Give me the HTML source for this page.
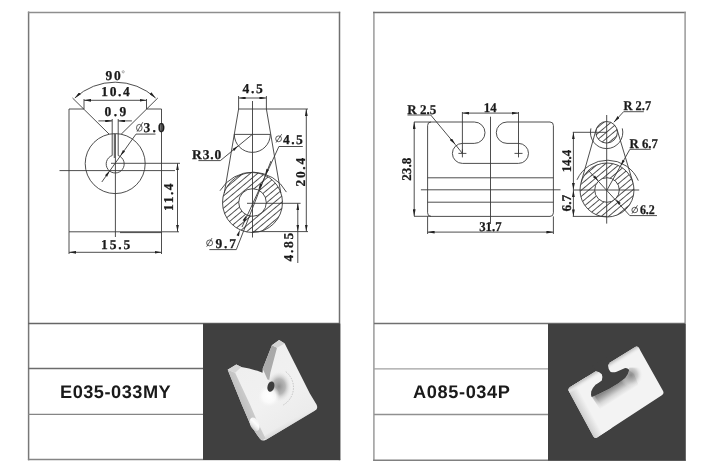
<!DOCTYPE html>
<html><head><meta charset="utf-8"><style>
html,body{margin:0;padding:0;background:#fff;}
body{width:718px;height:470px;overflow:hidden;position:relative;}
svg{position:absolute;left:0;top:0;will-change:transform;}
text{text-rendering:geometricPrecision;}
.pn{font-family:"Liberation Sans",sans-serif;font-weight:bold;font-size:18.2px;fill:#1a1a1a;}
.d{font-family:"Liberation Serif",serif;font-weight:bold;fill:#1a1a1a;stroke:#1a1a1a;stroke-width:0.25px;}
</style></head><body>
<svg width="718" height="470" viewBox="0 0 718 470">
<defs>
<marker id="a" viewBox="0 0 10 4" refX="10" refY="2" markerWidth="7" markerHeight="2.8" markerUnits="userSpaceOnUse" orient="auto-start-reverse"><path d="M0,0 L10,2 L0,4 z" fill="#222"/></marker>
<clipPath id="annL"><path fill-rule="evenodd" d="M282.5,202.5 A30,30 0 1 0 222.5,202.5 A30,30 0 1 0 282.5,202.5 Z M266.3,202.5 A13.8,13.8 0 1 0 238.7,202.5 A13.8,13.8 0 1 0 266.3,202.5 Z" clip-rule="evenodd"/></clipPath>
<clipPath id="smR"><circle cx="606.6" cy="132.3" r="10.8"/></clipPath>
<clipPath id="annR"><path d="M634.1,190 A27,27 0 1 0 580.1,190 A27,27 0 1 0 634.1,190 Z M619,190 A12.3,12.3 0 1 0 594.4,190 A12.3,12.3 0 1 0 619,190 Z" clip-rule="evenodd"/></clipPath>
<pattern id="hatch" patternUnits="userSpaceOnUse" width="4.7" height="4.7" patternTransform="rotate(50)"><line x1="2.35" y1="0" x2="2.35" y2="4.7" stroke="#2a2a2a" stroke-width="0.8"/></pattern>
</defs>

<!-- frames -->
<g fill="none" stroke-width="1.5">
<line x1="28.6" y1="11.6" x2="28.6" y2="460.3" stroke="#787878"/>
<line x1="27.9" y1="12.4" x2="340.2" y2="12.4" stroke="#8e8e8e"/>
<line x1="339.5" y1="11.7" x2="339.5" y2="460.3" stroke="#707070"/>
<line x1="27.9" y1="459.6" x2="340.2" y2="459.6" stroke="#858585"/>
<line x1="373.9" y1="11.7" x2="373.9" y2="461" stroke="#9a9a9a"/>
<line x1="373.2" y1="12.4" x2="685.8" y2="12.4" stroke="#707070"/>
<line x1="685.1" y1="11.7" x2="685.1" y2="461" stroke="#999999"/>
<line x1="373.2" y1="460.3" x2="685.8" y2="460.3" stroke="#808080"/>
<line x1="28" y1="323.4" x2="340" y2="323.4" stroke="#666666"/>
<line x1="374" y1="323.4" x2="685" y2="323.4" stroke="#707070"/>
</g>
<g fill="none" stroke-width="1.3">
<line x1="28" y1="368.5" x2="203" y2="368.5" stroke="#6c6c6c"/>
<line x1="28" y1="414.4" x2="203" y2="414.4" stroke="#858585"/>
<line x1="374" y1="368.9" x2="548" y2="368.9" stroke="#a0a0a0"/>
<line x1="374" y1="414.5" x2="548" y2="414.5" stroke="#909090"/>
</g>
<rect x="203" y="323.6" width="137.3" height="136.4" fill="#404040"/>
<rect x="548" y="323.8" width="137.6" height="136.8" fill="#404040"/>

<text class="pn" x="60.0" y="397.9" letter-spacing="0.5">E035-033MY</text>
<text class="pn" x="413.0" y="397.9" letter-spacing="0.62">A085-034P</text>

<!-- ================= LEFT DRAWING ================= -->
<g fill="none" stroke="#3a3a3a" stroke-width="0.9">
<!-- front view -->
<polyline points="84,109 69,109 69,231.8 161.5,231.8 161.5,109 146.5,109"/>
<line x1="161.5" y1="231.8" x2="161.5" y2="254"/>
<line x1="69" y1="231.8" x2="69" y2="254"/>
<line x1="161.5" y1="231.8" x2="179" y2="231.8"/>
<line x1="120" y1="232.6" x2="161.5" y2="232.6"/>
<line x1="72.5" y1="98" x2="109.2" y2="134.2"/>
<line x1="157.8" y1="98" x2="121.2" y2="134.2"/>
<line x1="84" y1="99" x2="84" y2="109"/>
<line x1="146.5" y1="99" x2="146.5" y2="109"/>
<circle cx="115.2" cy="163.6" r="30"/>
<path d="M112.2,119 L112.2,155.5 A9,9 0 1 0 118.2,155.5 L118.2,119"/>
<line x1="114.3" y1="134" x2="114.3" y2="158"/>
<line x1="115.4" y1="134" x2="115.4" y2="237"/>
<line x1="59.5" y1="170.6" x2="175" y2="170.6"/>
<line x1="111" y1="163.3" x2="180" y2="163.3"/>
<!-- 90 arc -->
<path d="M74.8,98 A59.5,59.5 0 0 1 155.6,98" marker-start="url(#a)" marker-end="url(#a)"/>
<!-- 10.4 -->
<line x1="84" y1="100.3" x2="146.5" y2="100.3" marker-start="url(#a)" marker-end="url(#a)"/>
<!-- 0.9 -->
<line x1="98.4" y1="120.9" x2="112.2" y2="120.9" marker-end="url(#a)"/>
<line x1="131.9" y1="120.9" x2="118.2" y2="120.9" marker-end="url(#a)"/>
<!-- dia 3.0 leader -->
<line x1="155.5" y1="134.1" x2="136" y2="134.1"/>
<line x1="136" y1="134.1" x2="101.8" y2="182"/>
<!-- 11.4 -->
<line x1="177.5" y1="163.3" x2="177.5" y2="231.8" marker-start="url(#a)" marker-end="url(#a)"/>
<!-- 15.5 -->
<line x1="69" y1="252.3" x2="161.5" y2="252.3" marker-start="url(#a)" marker-end="url(#a)"/>

<!-- side view -->
<line x1="238.6" y1="109" x2="308" y2="109"/>
<line x1="238.6" y1="96" x2="238.6" y2="109"/>
<line x1="266.4" y1="96" x2="266.4" y2="109"/>
<line x1="238.6" y1="98" x2="266.4" y2="98" marker-start="url(#a)" marker-end="url(#a)"/>
<line x1="238.6" y1="109" x2="224.3" y2="193"/>
<line x1="266.4" y1="109" x2="280.8" y2="193"/>
<line x1="252.5" y1="101" x2="252.5" y2="237.5"/>
<line x1="234.3" y1="134.4" x2="270.3" y2="134.4"/>
<path d="M234.3,134.4 A18,18 0 0 0 270.3,134.4"/>
<!-- R3.0 leader -->
<line x1="198.4" y1="160.6" x2="220.4" y2="160.6"/>
<line x1="220.4" y1="160.6" x2="252.3" y2="134.4"/>
<!-- big circle -->
<circle cx="252.5" cy="202.5" r="30"/>
<circle cx="252.5" cy="202.5" r="13.8"/>
<path d="M220,190.7 A38.3,38.3 0 0 1 286.4,192.1"/>
<line x1="247" y1="203.3" x2="300.6" y2="203.3"/>
<line x1="252.5" y1="231.6" x2="308" y2="231.6"/>
<!-- 20.4 -->
<line x1="306.3" y1="109" x2="306.3" y2="231.6" marker-start="url(#a)" marker-end="url(#a)"/>
<!-- 4.85 -->
<line x1="297.8" y1="203.3" x2="297.8" y2="231.6" marker-start="url(#a)" marker-end="url(#a)"/>
<line x1="297.8" y1="231.6" x2="297.8" y2="263"/>
<!-- dia 4.5 leader -->
<line x1="302.8" y1="146.5" x2="278.9" y2="146.5"/>
<line x1="278.9" y1="146.5" x2="242" y2="227"/>
<!-- dia 9.7 leader -->
<line x1="209.4" y1="249.6" x2="236.3" y2="249.6"/>
<line x1="236.3" y1="249.6" x2="271" y2="161"/>
</g>
<rect x="220" y="170" width="66" height="66" fill="url(#hatch)" clip-path="url(#annL)"/>

<!-- ================= RIGHT DRAWING ================= -->
<g fill="none" stroke="#3a3a3a" stroke-width="0.9">
<!-- main rect -->
<path d="M474.3,122 L431,122 Q427.6,122 427.6,125.5 L427.6,212.8 Q427.6,216.4 431,216.4 L550,216.4 Q553.4,216.4 553.4,212.8 L553.4,125.5 Q553.4,122 550,122 L507,122"/>
<line x1="414" y1="122" x2="431" y2="122"/>
<path d="M474.3,122 A10.7,10.7 0 0 1 474.3,143.4 L462.4,143.4 A10,10 0 0 0 462.4,163.4 L518.5,163.4 A10,10 0 0 0 518.5,143.4 L507,143.4 A10.7,10.7 0 0 1 507,122"/>
<line x1="427.6" y1="177.8" x2="553.4" y2="177.8"/>
<line x1="420.9" y1="189.8" x2="560.5" y2="189.8"/>
<line x1="427.6" y1="202.2" x2="553.4" y2="202.2"/>
<line x1="490.5" y1="116.7" x2="490.5" y2="224"/>
<!-- crosses -->
<line x1="458.4" y1="153.4" x2="466.4" y2="153.4"/>
<line x1="462.4" y1="149.4" x2="462.4" y2="157.4"/>
<line x1="514.5" y1="153.4" x2="522.5" y2="153.4"/>
<line x1="518.5" y1="149.4" x2="518.5" y2="157.4"/>
<!-- 14 -->
<line x1="462.4" y1="112" x2="462.4" y2="153.4"/>
<line x1="518.5" y1="112" x2="518.5" y2="153.4"/>
<line x1="462.4" y1="113.1" x2="518.5" y2="113.1" marker-start="url(#a)" marker-end="url(#a)"/>
<!-- R2.5 leader -->
<line x1="407.5" y1="115" x2="430.7" y2="115"/>
<line x1="430.7" y1="115" x2="455.3" y2="144.5" marker-end="url(#a)"/>
<line x1="455.3" y1="144.5" x2="462.4" y2="153.4"/>
<!-- 23.8 -->
<line x1="414.2" y1="122" x2="414.2" y2="216.2" marker-start="url(#a)" marker-end="url(#a)"/>
<line x1="414" y1="216.3" x2="431" y2="216.3"/>
<!-- 31.7 -->
<line x1="427.6" y1="216.4" x2="427.6" y2="234"/>
<line x1="553.4" y1="216.4" x2="553.4" y2="234"/>
<line x1="427.6" y1="232.1" x2="553.4" y2="232.1" marker-start="url(#a)" marker-end="url(#a)"/>

<!-- second figure -->
<circle cx="606.6" cy="132.3" r="10.8"/>
<path d="M590.9,128.4 A16.2,16.2 0 1 0 622.3,128.4"/>
<circle cx="607" cy="190" r="27"/>
<circle cx="607" cy="190" r="12.3"/>
<path d="M577,179.8 A33.5,33.5 0 0 1 638.3,180.6"/>
<line x1="596.2" y1="129.3" x2="581.1" y2="182.4"/>
<line x1="617" y1="129.3" x2="632.9" y2="182.4"/>
<line x1="606.7" y1="115" x2="606.7" y2="223.6"/>
<line x1="573.3" y1="190" x2="639.2" y2="190"/>
<line x1="572.8" y1="132.3" x2="606.6" y2="132.3"/>
<line x1="572.8" y1="216.4" x2="607" y2="216.4"/>
<line x1="573.4" y1="132.3" x2="573.4" y2="190" marker-start="url(#a)" marker-end="url(#a)"/>
<line x1="573.4" y1="190" x2="573.4" y2="216.4" marker-start="url(#a)" marker-end="url(#a)"/>
<!-- R2.7 leader -->
<line x1="623.6" y1="111.7" x2="643.8" y2="111.7"/>
<line x1="623.6" y1="111.7" x2="613.9" y2="122.2" marker-end="url(#a)"/>
<!-- R6.7 leader -->
<line x1="629.9" y1="149.3" x2="650.8" y2="149.3"/>
<line x1="629.9" y1="149.3" x2="607" y2="190"/>
<!-- dia 6.2 leader -->
<line x1="588.1" y1="170.1" x2="629.8" y2="215.6"/>
<line x1="629.8" y1="215.6" x2="657" y2="215.6"/>
</g>
<rect x="594" y="119" width="26" height="26" fill="url(#hatch)" clip-path="url(#smR)"/>
<rect x="578" y="161" width="58" height="58" fill="url(#hatch)" clip-path="url(#annR)"/>

<text class="d" transform="translate(105.80,80.40) scale(1.000,1)" x="-0.34" font-size="13.5" letter-spacing="1.68">90</text>
<circle cx="123.2" cy="71.8" r="1.1" fill="none" stroke="#777" stroke-width="0.6"/>
<text class="d" transform="translate(102.40,95.90) scale(1.000,1)" x="-1.08" font-size="13.5" letter-spacing="1.64">10.4</text>
<text class="d" transform="translate(105.10,115.60) scale(1.000,1)" x="-0.54" font-size="13.5" letter-spacing="2.37">0.9</text>
<ellipse cx="139.3" cy="127.8" rx="2.8" ry="3.4" fill="none" stroke="#333" stroke-width="0.8"/><line x1="142.8" y1="122.2" x2="137.1" y2="131.7" stroke="#333" stroke-width="0.8"/>
<text class="d" transform="translate(144.00,132.10) scale(1.000,1)" x="-0.54" font-size="13.5" letter-spacing="2.20">3.0</text>
<text class="d" transform="translate(102.20,249.10) scale(1.000,1)" x="-1.08" font-size="13.5" letter-spacing="1.84">15.5</text>
<text class="d" transform="translate(242.60,92.60) scale(1.000,1)" x="-0.20" font-size="13.5" letter-spacing="1.75">4.5</text>
<text class="d" transform="translate(192.30,158.90) scale(1.000,1)" x="-0.20" font-size="13.5" letter-spacing="0.81">R3.0</text>
<ellipse cx="278.6" cy="138.8" rx="2.9" ry="2.9" fill="none" stroke="#333" stroke-width="0.8"/><line x1="281.7" y1="134.2" x2="276.1" y2="142.5" stroke="#333" stroke-width="0.8"/>
<text class="d" transform="translate(283.10,143.90) scale(1.000,1)" x="-0.20" font-size="13.5" letter-spacing="1.50">4.5</text>
<ellipse cx="209.6" cy="242.9" rx="3.0" ry="2.9" fill="none" stroke="#333" stroke-width="0.8"/><line x1="212" y1="238.1" x2="206.7" y2="246.7" stroke="#333" stroke-width="0.8"/>
<text class="d" transform="translate(215.90,247.80) scale(1.000,1)" x="-0.34" font-size="13.5" letter-spacing="1.80">9.7</text>
<text class="d" transform="translate(172.80,209.80) rotate(-90) scale(1.000,1)" x="-1.08" font-size="13.5" letter-spacing="1.51">11.4</text>
<text class="d" transform="translate(305.00,186.00) rotate(-90) scale(1.000,1)" x="-0.54" font-size="13.5" letter-spacing="1.70">20.4</text>
<text class="d" transform="translate(293.40,261.20) rotate(-90) scale(1.000,1)" x="-0.20" font-size="13.5" letter-spacing="1.65">4.85</text>
<text class="d" transform="translate(407.50,113.70) scale(0.980,1)" x="-0.20" font-size="13.3">R 2.5</text>
<text class="d" transform="translate(484.80,111.80) scale(0.961,1)" x="-1.06" font-size="13.3">14</text>
<text class="d" transform="translate(479.70,231.20) scale(0.964,1)" x="-0.53" font-size="13.3">31.7</text>
<text class="d" transform="translate(623.60,110.30) scale(0.937,1)" x="-0.20" font-size="13.3">R 2.7</text>
<text class="d" transform="translate(629.70,147.80) scale(0.961,1)" x="-0.20" font-size="13.3">R 6.7</text>
<ellipse cx="634.75" cy="210" rx="2.9" ry="2.7" fill="none" stroke="#333" stroke-width="0.8"/><line x1="637.5" y1="205.3" x2="632" y2="213.6" stroke="#333" stroke-width="0.8"/>
<text class="d" transform="translate(640.30,213.60) scale(0.900,1)" x="-0.47" font-size="13.3">6.2</text>
<text class="d" transform="translate(411.30,180.20) rotate(-90) scale(0.988,1)" x="-0.53" font-size="13.3">23.8</text>
<text class="d" transform="translate(571.20,171.30) rotate(-90) scale(0.966,1)" x="-1.06" font-size="13.3">14.4</text>
<text class="d" transform="translate(571.00,211.00) rotate(-90) scale(1.011,1)" x="-0.47" font-size="13.3">6.7</text>
<path d="M120.20,156.00 L125.06,151.49 L122.95,149.97 Z" fill="#222"/>
<path d="M109.80,170.60 L105.00,175.17 L107.13,176.67 Z" fill="#222"/>
<path d="M238.30,145.80 L232.46,148.94 L234.12,150.94 Z" fill="#222"/>
<path d="M258.40,190.00 L262.35,184.67 L259.99,183.57 Z" fill="#222"/>
<path d="M246.60,215.00 L242.65,220.33 L245.00,221.43 Z" fill="#222"/>
<path d="M265.00,175.30 L268.89,169.93 L266.52,168.85 Z" fill="#222"/>
<path d="M240.00,229.70 L236.51,235.33 L238.94,236.24 Z" fill="#222"/>
<path d="M620.50,166.00 L624.82,160.97 L622.56,159.70 Z" fill="#222"/>
<path d="M598.50,181.10 L594.98,175.48 L593.09,177.27 Z" fill="#222"/>
<path d="M615.50,198.90 L618.74,204.68 L620.72,202.99 Z" fill="#222"/>
<!-- ================= 3D LEFT ================= -->
<g id="obj1">
<defs>
<linearGradient id="g1front" gradientUnits="userSpaceOnUse" x1="250" y1="360" x2="300" y2="430">
<stop offset="0" stop-color="#efefef"/><stop offset="0.5" stop-color="#f1f1f1"/><stop offset="1" stop-color="#eaeaea"/>
</linearGradient>
<linearGradient id="g1side" gradientUnits="userSpaceOnUse" x1="241" y1="405" x2="250" y2="401">
<stop offset="0" stop-color="#bfbfbf"/><stop offset="1" stop-color="#cdcdcd"/>
</linearGradient>
<linearGradient id="g1ear" x1="0" y1="0" x2="0" y2="1">
<stop offset="0" stop-color="#a8a8a8"/><stop offset="1" stop-color="#adadad"/>
</linearGradient>
<linearGradient id="g1bot" gradientUnits="userSpaceOnUse" x1="288" y1="420" x2="291" y2="426">
<stop offset="0" stop-color="#ebebeb" stop-opacity="0"/><stop offset="1" stop-color="#dadada"/>
</linearGradient>
<radialGradient id="g1dep" gradientUnits="userSpaceOnUse" cx="279" cy="386.5" r="14" gradientTransform="translate(279 386.5) scale(0.9 1.1) translate(-279 -386.5)">
<stop offset="0" stop-color="#8a8a8a" stop-opacity="0.95"/><stop offset="0.5" stop-color="#a4a4a4" stop-opacity="0.75"/><stop offset="1" stop-color="#e8e8e8" stop-opacity="0"/>
</radialGradient>
<radialGradient id="g1hl" gradientUnits="userSpaceOnUse" cx="269" cy="396" r="11">
<stop offset="0" stop-color="#ffffff" stop-opacity="1"/><stop offset="0.6" stop-color="#fcfcfc" stop-opacity="0.85"/><stop offset="1" stop-color="#f5f5f5" stop-opacity="0"/>
</radialGradient>
</defs>
<path d="M227.7,369.7 L236.3,364.4 L241.3,366.9 L249.1,368.6 L257.4,370.8 L262.5,372.8 L262.7,368.7 L271.9,345.2 L279.1,340 L284.7,343.6 L309.7,393.3 L316.5,404.5 Q318.5,408.5 315,410.5 L265.5,440 Q262,441.5 260.2,439 Q254,431 249.3,422 L242,405 Z" fill="url(#g1front)"/>
<path d="M265.5,440 L315,410.5 L313.5,406 L264,436 Z" fill="url(#g1bot)"/>
<path d="M227.7,369.7 L235.1,372.8 L250.2,405 L257.5,422 L265.5,438.3 Q263,441.5 260.2,439 Q254,431 249.3,422 L242,405 Z" fill="url(#g1side)"/>
<path d="M227.7,369.7 L236.3,364.4 L241.3,366.9 L235.1,372.8 Z" fill="#d6d6d6"/>
<path d="M271.9,345.2 L277,347.7 L270.4,372.8 L269.3,379.9 L267.5,379.5 L262.7,368.7 Z" fill="url(#g1ear)"/>
<path d="M271.9,345.2 L279.1,340 L284.7,343.6 L277,347.7 Z" fill="#d4d4d4"/>
<ellipse cx="279" cy="386.5" rx="16" ry="16" fill="url(#g1dep)"/>
<circle cx="269" cy="396" r="11" fill="url(#g1hl)"/>
<path d="M285.8,371.7 A20.1,20.1 0 0 1 282.9,405.2" fill="none" stroke="#a8a8a8" stroke-width="0.6" stroke-dasharray="1.5,1.2"/>
<ellipse cx="270.9" cy="386.6" rx="3.4" ry="5.3" transform="rotate(15 270.9 386.6)" fill="#3c3c3c"/>
<linearGradient id="g1hole" gradientUnits="userSpaceOnUse" x1="250" y1="426" x2="258" y2="423">
<stop offset="0" stop-color="#c4c4c4"/><stop offset="0.35" stop-color="#e8e8e8"/><stop offset="0.7" stop-color="#fcfcfc"/><stop offset="1" stop-color="#f4f4f4"/></linearGradient>
<ellipse cx="254.6" cy="424.2" rx="4.4" ry="7.1" transform="rotate(-25 254.6 424.2)" fill="url(#g1hole)"/>
</g>
<!-- ================= 3D RIGHT ================= -->
<g id="obj2">
<defs>
<clipPath id="c2"><path d="M570.22,387.12 L634.78,347.18 Q637.50,345.50 639.07,348.29 L662.93,390.71 Q664.50,393.50 661.82,395.25 L597.48,437.25 Q594.80,439.00 593.27,436.19 L569.03,391.61 Q567.50,388.80 570.22,387.12 Z"/></clipPath>
<linearGradient id="g2front" gradientUnits="userSpaceOnUse" x1="577" y1="415" x2="589" y2="408.5">
<stop offset="0" stop-color="#b4b4b4"/><stop offset="0.45" stop-color="#d6d6d6"/><stop offset="1" stop-color="#f3f3f3"/>
</linearGradient>
<linearGradient id="g2wall" gradientUnits="userSpaceOnUse" x1="609" y1="389" x2="615.7" y2="399.6">
<stop offset="0" stop-color="#888888"/><stop offset="0.25" stop-color="#a6a6a6"/><stop offset="0.6" stop-color="#d6d6d6"/><stop offset="1" stop-color="#f3f3f3"/></linearGradient>
<linearGradient id="g2wallL" gradientUnits="userSpaceOnUse" x1="592" y1="404" x2="599" y2="400">
<stop offset="0" stop-color="#f3f3f3"/><stop offset="1" stop-color="#f3f3f3" stop-opacity="0"/></linearGradient>
<radialGradient id="g2end" gradientUnits="userSpaceOnUse" cx="631" cy="375" r="12">
<stop offset="0" stop-color="#8a8a8a"/><stop offset="0.55" stop-color="#bcbcbc" stop-opacity="0.7"/><stop offset="1" stop-color="#f2f2f2" stop-opacity="0"/></radialGradient>
<linearGradient id="g2top" gradientUnits="userSpaceOnUse" x1="602" y1="367.4" x2="604.9" y2="372.1">
<stop offset="0" stop-color="#bdbdbd"/><stop offset="0.5" stop-color="#e4e4e4"/><stop offset="1" stop-color="#f3f3f3" stop-opacity="0"/></linearGradient>
<clipPath id="c2wall"><path d="M590,398 L628.1,369.4 L629.5,367.5 L648,367.5 L648,400 L600,418 Z"/></clipPath>
</defs>
<path d="M570.22,387.12 L634.78,347.18 Q637.50,345.50 639.07,348.29 L662.93,390.71 Q664.50,393.50 661.82,395.25 L597.48,437.25 Q594.80,439.00 593.27,436.19 L569.03,391.61 Q567.50,388.80 570.22,387.12 Z" fill="#f3f3f3"/>
<g clip-path="url(#c2)">
<path d="M560,385 L584,372 L612,428 L600,450 Z" fill="url(#g2front)"/>
<path d="M560,380 L640,335 L650,352 L565,398 Z" fill="url(#g2top)"/>
<path d="M591.2,396 L599.4,393.8 L609,389 L618.5,383.3 L625.2,378 L628.6,373.7 L629.1,370.3 L634,374 L639,386 L632,393 L606,410.5 L600,409 Z" fill="url(#g2wall)"/>
<path d="M589,397 L594,395 L604,409 L606,412 L596,412 Z" fill="url(#g2wallL)"/>
<g clip-path="url(#c2wall)"><ellipse cx="631" cy="375" rx="12" ry="12" fill="url(#g2end)"/></g>
</g>
<path d="M596.5,371.3 Q599.4,371.8 601.8,374.2 Q603.2,377.5 601.8,380.4 Q599.4,382.3 595.5,384.7 Q592.7,387.6 591.2,391.4 Q590.6,395.2 591.7,397.1 L599.4,393.8 L609,389 L618.5,383.3 L625.2,378 Q628.6,373.7 629.1,370.3 Q628.8,368.2 625.2,367.9 Q621.4,369.4 616.6,371.8 Q613.3,372.9 610.4,371.8 Q608.3,369.5 608,365.5 Q608.2,364 609.4,363.2 L606,357 L592,366 Z" fill="#404040"/>
</g>
</svg>
</body></html>
